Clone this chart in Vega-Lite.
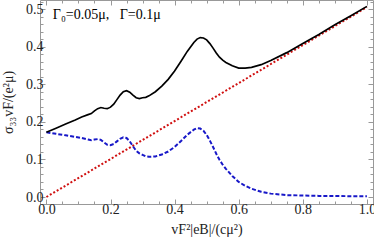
{
  "$schema": "https://vega.github.io/schema/vega-lite/v6.json",
  "width": 333,
  "height": 204,
  "autosize": {"type": "none"},
  "padding": {"left": 40, "top": 0, "right": 1, "bottom": 38},
  "config": {
    "view": {"stroke": "#999999", "strokeWidth": 1},
    "font": "Times New Roman, Times, serif",
    "axis": {
      "domain": false,
      "grid": false,
      "tickColor": "#999999",
      "tickWidth": 1,
      "labelFont": "Times New Roman, Times, serif",
      "labelFontSize": 14,
      "labelColor": "#222222",
      "titleFont": "Times New Roman, Times, serif",
      "titleFontSize": 14,
      "titleFontWeight": "normal",
      "titleColor": "#222222"
    }
  },
  "datasets": {
    "blue": [
      {"x": 0.00, "y": 0.172}, {"x": 0.03, "y": 0.168}, {"x": 0.06, "y": 0.164}, {"x": 0.09, "y": 0.160},
      {"x": 0.11, "y": 0.157}, {"x": 0.13, "y": 0.153}, {"x": 0.14, "y": 0.151}, {"x": 0.15, "y": 0.153},
      {"x": 0.16, "y": 0.154}, {"x": 0.17, "y": 0.152}, {"x": 0.18, "y": 0.145}, {"x": 0.19, "y": 0.139},
      {"x": 0.20, "y": 0.138}, {"x": 0.21, "y": 0.141}, {"x": 0.22, "y": 0.148}, {"x": 0.23, "y": 0.155},
      {"x": 0.24, "y": 0.159}, {"x": 0.25, "y": 0.157}, {"x": 0.26, "y": 0.148}, {"x": 0.27, "y": 0.135},
      {"x": 0.28, "y": 0.123}, {"x": 0.29, "y": 0.116}, {"x": 0.30, "y": 0.112}, {"x": 0.31, "y": 0.108},
      {"x": 0.32, "y": 0.107}, {"x": 0.34, "y": 0.108}, {"x": 0.36, "y": 0.113}, {"x": 0.38, "y": 0.121},
      {"x": 0.40, "y": 0.133}, {"x": 0.42, "y": 0.149}, {"x": 0.44, "y": 0.166}, {"x": 0.46, "y": 0.179},
      {"x": 0.47, "y": 0.183}, {"x": 0.48, "y": 0.182}, {"x": 0.49, "y": 0.176}, {"x": 0.50, "y": 0.165},
      {"x": 0.51, "y": 0.150}, {"x": 0.52, "y": 0.133}, {"x": 0.53, "y": 0.115}, {"x": 0.54, "y": 0.099},
      {"x": 0.55, "y": 0.086}, {"x": 0.56, "y": 0.075}, {"x": 0.58, "y": 0.056}, {"x": 0.60, "y": 0.040},
      {"x": 0.62, "y": 0.030}, {"x": 0.64, "y": 0.022}, {"x": 0.67, "y": 0.014}, {"x": 0.70, "y": 0.009},
      {"x": 0.75, "y": 0.005}, {"x": 0.80, "y": 0.004}, {"x": 0.85, "y": 0.003}, {"x": 0.90, "y": 0.003},
      {"x": 0.95, "y": 0.002}, {"x": 1.00, "y": 0.002}
    ],
    "black": [
      {"x": 0.00, "y": 0.172}, {"x": 0.03, "y": 0.183}, {"x": 0.06, "y": 0.194}, {"x": 0.09, "y": 0.205},
      {"x": 0.11, "y": 0.213}, {"x": 0.13, "y": 0.219}, {"x": 0.14, "y": 0.222}, {"x": 0.15, "y": 0.229},
      {"x": 0.16, "y": 0.235}, {"x": 0.17, "y": 0.238}, {"x": 0.18, "y": 0.236}, {"x": 0.19, "y": 0.235},
      {"x": 0.20, "y": 0.239}, {"x": 0.21, "y": 0.247}, {"x": 0.22, "y": 0.259}, {"x": 0.23, "y": 0.271},
      {"x": 0.24, "y": 0.280}, {"x": 0.25, "y": 0.283}, {"x": 0.26, "y": 0.279}, {"x": 0.27, "y": 0.271},
      {"x": 0.28, "y": 0.264}, {"x": 0.29, "y": 0.262}, {"x": 0.30, "y": 0.264}, {"x": 0.31, "y": 0.265},
      {"x": 0.32, "y": 0.269}, {"x": 0.34, "y": 0.280}, {"x": 0.36, "y": 0.295}, {"x": 0.38, "y": 0.313},
      {"x": 0.40, "y": 0.335}, {"x": 0.42, "y": 0.361}, {"x": 0.44, "y": 0.388}, {"x": 0.46, "y": 0.411},
      {"x": 0.47, "y": 0.420}, {"x": 0.48, "y": 0.424}, {"x": 0.49, "y": 0.423}, {"x": 0.50, "y": 0.418},
      {"x": 0.51, "y": 0.408}, {"x": 0.52, "y": 0.396}, {"x": 0.53, "y": 0.383}, {"x": 0.54, "y": 0.372},
      {"x": 0.55, "y": 0.364}, {"x": 0.56, "y": 0.358}, {"x": 0.58, "y": 0.349}, {"x": 0.60, "y": 0.343},
      {"x": 0.62, "y": 0.343}, {"x": 0.64, "y": 0.345}, {"x": 0.67, "y": 0.352}, {"x": 0.70, "y": 0.363},
      {"x": 0.75, "y": 0.384}, {"x": 0.80, "y": 0.408}, {"x": 0.85, "y": 0.432}, {"x": 0.90, "y": 0.458},
      {"x": 0.95, "y": 0.482}, {"x": 1.00, "y": 0.507}
    ],
    "red": [{"x": 0.0, "y": 0.0}, {"x": 1.0, "y": 0.505}],
    "note": [{"x": 0.02, "y": 0.484, "label": "Γ₀=0.05μ,\u00a0\u00a0\u00a0Γ=0.1μ"}]
  },
  "layer": [
    {
      "data": {"name": "red"},
      "mark": {"type": "line", "color": "#d01010", "strokeWidth": 2, "strokeDash": [2, 2], "clip": true},
      "encoding": {
        "x": {"field": "x", "type": "quantitative",
              "scale": {"domain": [-0.02, 1.019], "nice": false, "zero": false},
              "axis": {"orient": "bottom", "values": [0, 0.2, 0.4, 0.6, 0.8, 1], "format": ".1f", "tickSize": -5, "labelPadding": 3, "title": "vF²|eB|/(cμ²)", "titlePadding": 6}},
        "y": {"field": "y", "type": "quantitative",
              "scale": {"domain": [-0.0186, 0.524], "nice": false, "zero": false},
              "axis": {"orient": "left", "values": [0, 0.1, 0.2, 0.3, 0.4, 0.5], "format": ".1f", "tickSize": -5, "labelPadding": 2, "title": "σ₃₃vF/(e²μ)", "titlePadding": 10}}
      }
    },
    {
      "data": {"name": "blue"},
      "mark": {"type": "line", "color": "#1818c8", "strokeWidth": 2, "strokeDash": [4, 2], "clip": true},
      "encoding": {
        "x": {"field": "x", "type": "quantitative",
              "scale": {"domain": [-0.02, 1.019], "nice": false, "zero": false},
              "axis": {"orient": "top", "values": [0, 0.2, 0.4, 0.6, 0.8, 1], "tickSize": -5, "labels": false, "title": null}},
        "y": {"field": "y", "type": "quantitative",
              "scale": {"domain": [-0.0186, 0.524], "nice": false, "zero": false},
              "axis": {"orient": "right", "values": [0, 0.1, 0.2, 0.3, 0.4, 0.5], "tickSize": -5, "labels": false, "title": null}}
      }
    },
    {
      "data": {"name": "black"},
      "mark": {"type": "line", "color": "#000000", "strokeWidth": 1.7, "clip": true},
      "encoding": {
        "x": {"field": "x", "type": "quantitative",
              "scale": {"domain": [-0.02, 1.019], "nice": false, "zero": false},
              "axis": {"orient": "bottom", "values": [0.05, 0.1, 0.15, 0.25, 0.3, 0.35, 0.45, 0.5, 0.55, 0.65, 0.7, 0.75, 0.85, 0.9, 0.95], "tickSize": -3, "labels": false, "title": null}},
        "y": {"field": "y", "type": "quantitative",
              "scale": {"domain": [-0.0186, 0.524], "nice": false, "zero": false},
              "axis": {"orient": "left", "values": [0.02, 0.04, 0.06, 0.08, 0.12, 0.14, 0.16, 0.18, 0.22, 0.24, 0.26, 0.28, 0.32, 0.34, 0.36, 0.38, 0.42, 0.44, 0.46, 0.48, 0.52], "tickSize": -3, "labels": false, "title": null}}
      }
    },
    {
      "data": {"name": "note"},
      "mark": {"type": "text", "align": "left", "baseline": "middle", "font": "Times New Roman, Times, serif", "fontSize": 14, "color": "#000000"},
      "encoding": {
        "text": {"field": "label"},
        "x": {"field": "x", "type": "quantitative",
              "scale": {"domain": [-0.02, 1.019], "nice": false, "zero": false},
              "axis": {"orient": "top", "values": [0.05, 0.1, 0.15, 0.25, 0.3, 0.35, 0.45, 0.5, 0.55, 0.65, 0.7, 0.75, 0.85, 0.9, 0.95], "tickSize": -3, "labels": false, "title": null}},
        "y": {"field": "y", "type": "quantitative",
              "scale": {"domain": [-0.0186, 0.524], "nice": false, "zero": false},
              "axis": {"orient": "right", "values": [0.02, 0.04, 0.06, 0.08, 0.12, 0.14, 0.16, 0.18, 0.22, 0.24, 0.26, 0.28, 0.32, 0.34, 0.36, 0.38, 0.42, 0.44, 0.46, 0.48, 0.52], "tickSize": -3, "labels": false, "title": null}}
      }
    }
  ],
  "resolve": {"axis": {"x": "independent", "y": "independent"}}
}
